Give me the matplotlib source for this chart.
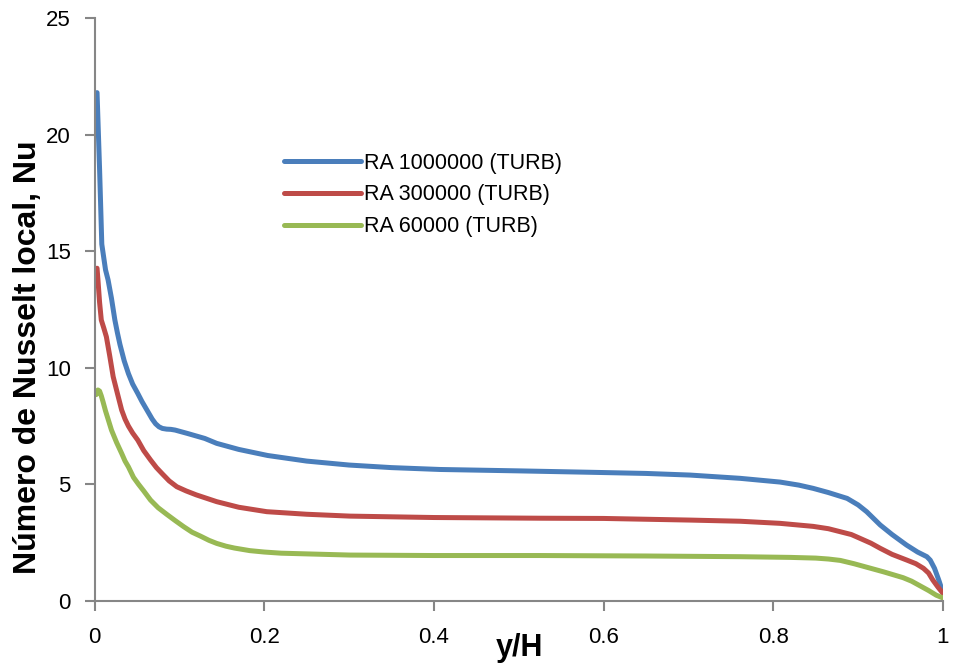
import matplotlib
matplotlib.use("Agg")
import matplotlib.pyplot as plt

# ---- data ----
ra1e6_x = [0.003, 0.006, 0.0086, 0.013, 0.016, 0.020, 0.024, 0.027, 0.030, 0.035, 0.040, 0.045,
           0.051, 0.056, 0.060, 0.064, 0.068, 0.072, 0.076, 0.080, 0.085, 0.090, 0.095, 0.100,
           0.110, 0.130, 0.144, 0.170, 0.204, 0.250, 0.300, 0.350, 0.407, 0.500, 0.584, 0.650,
           0.702, 0.761, 0.808, 0.830, 0.847, 0.865, 0.887, 0.900, 0.910, 0.926, 0.940, 0.957,
           0.970, 0.981, 0.985, 0.990, 0.995, 1.0]
ra1e6_y = [21.8, 18.5, 15.3, 14.2, 13.77, 12.98, 12.05, 11.5, 11.0, 10.3, 9.75, 9.3,
           8.9, 8.55, 8.3, 8.05, 7.8, 7.6, 7.47, 7.4, 7.37, 7.36, 7.33, 7.28,
           7.18, 6.97, 6.76, 6.5, 6.24, 6.0, 5.83, 5.72, 5.64, 5.58, 5.52, 5.47,
           5.4, 5.26, 5.1, 4.97, 4.83, 4.65, 4.4, 4.12, 3.83, 3.26, 2.85, 2.4,
           2.1, 1.9, 1.75, 1.4, 0.9, 0.35]

ra3e5_x = [0.003, 0.004, 0.006, 0.008, 0.011, 0.014, 0.018, 0.022, 0.027, 0.032, 0.036, 0.040,
           0.045, 0.051, 0.058, 0.066, 0.073, 0.080, 0.088, 0.097, 0.108, 0.120, 0.144, 0.170,
           0.203, 0.250, 0.301, 0.400, 0.525, 0.600, 0.702, 0.761, 0.808, 0.847, 0.865, 0.879,
           0.892, 0.902, 0.915, 0.926, 0.940, 0.957, 0.968, 0.977, 0.983, 0.988, 0.994, 1.0]
ra3e5_y = [14.27, 13.8, 12.8, 12.05, 11.7, 11.33, 10.5, 9.62, 8.9, 8.19, 7.8, 7.5,
           7.2, 6.9, 6.45, 6.05, 5.72, 5.45, 5.15, 4.9, 4.72, 4.55, 4.26, 4.02,
           3.83, 3.72, 3.64, 3.58, 3.55, 3.54, 3.47, 3.42, 3.33, 3.2, 3.1, 2.97,
           2.85, 2.69, 2.48, 2.26, 2.0, 1.76, 1.6, 1.4, 1.2, 0.9, 0.6, 0.33]

ra6e4_x = [0.002, 0.004, 0.006, 0.008, 0.010, 0.013, 0.016, 0.020, 0.026, 0.032, 0.036, 0.040,
           0.046, 0.052, 0.058, 0.066, 0.075, 0.085, 0.095, 0.105, 0.115, 0.125, 0.135, 0.144,
           0.155, 0.165, 0.183, 0.200, 0.220, 0.301, 0.400, 0.525, 0.650, 0.761, 0.820, 0.850,
           0.865, 0.879, 0.895, 0.910, 0.930, 0.953, 0.963, 0.973, 0.983, 0.992, 1.0]
ra6e4_y = [8.85, 9.05, 9.0, 8.8, 8.55, 8.15, 7.8, 7.33, 6.8, 6.33, 6.0, 5.75,
           5.3, 5.0, 4.72, 4.33, 4.0, 3.72, 3.45, 3.19, 2.95, 2.78, 2.6, 2.47,
           2.35, 2.27, 2.16, 2.1, 2.05, 1.97, 1.95, 1.95, 1.93, 1.9, 1.87, 1.84,
           1.8, 1.74, 1.6, 1.45, 1.25, 1.0, 0.85, 0.65, 0.45, 0.25, 0.13]

series_labels = ["RA 1000000 (TURB)", "RA 300000 (TURB)", "RA 60000 (TURB)"]
x_ticks = [0, 0.2, 0.4, 0.6, 0.8, 1]
x_tick_labels = ["0", "0.2", "0.4", "0.6", "0.8", "1"]
y_ticks = [0, 5, 10, 15, 20, 25]

colors = ["#4A7EBB", "#BE4B48", "#98B954"]

plt.rcParams['font.family'] = ['Liberation Sans', 'DejaVu Sans']

fig = plt.figure(figsize=(9.54, 6.66), dpi=100)
ax = fig.add_axes([94.5 / 954, 65 / 666, (943 - 94.5) / 954, (601 - 18) / 666])

for xs, ys, lab, c in zip([ra1e6_x, ra3e5_x, ra6e4_x], [ra1e6_y, ra3e5_y, ra6e4_y],
                          series_labels, colors):
    ax.plot(xs, ys, color=c, lw=3.6, label=lab, solid_capstyle='round', solid_joinstyle='round')

ax.set_xlim(0, 1)
ax.set_ylim(0, 25)
ax.set_xticks(x_ticks)
ax.set_xticklabels(x_tick_labels)
ax.set_yticks(y_ticks)

for s in ["top", "right"]:
    ax.spines[s].set_visible(False)
for s in ["left", "bottom"]:
    ax.spines[s].set_color("#868686")
    ax.spines[s].set_linewidth(1.5)

ax.tick_params(axis='both', direction='out', length=7, width=1.5, color="#868686",
               labelsize=16, labelcolor="black")
ax.tick_params(axis='x', pad=12)
ax.tick_params(axis='y', pad=10)

ax.set_xlabel("y/H", fontsize=22, fontweight='bold')
ax.xaxis.set_label_coords(0.501, -47 / 583)
ax.xaxis.label.set_verticalalignment('center')
ax.set_ylabel("Número de Nusselt local, Nu", fontsize=23, fontweight='bold')
ax.yaxis.set_label_coords(-66.5 / 848.5, (601 - 357) / 583)
ax.yaxis.label.set_verticalalignment('center')

leg = ax.legend(loc='upper left', bbox_to_anchor=((275 - 94.5) / 848.5, (601 - 144) / 583),
                frameon=False, fontsize=15.5, handlelength=3.6, handletextpad=0.15,
                labelspacing=0.5, borderaxespad=0)

fig.savefig("out.png", dpi=100)
